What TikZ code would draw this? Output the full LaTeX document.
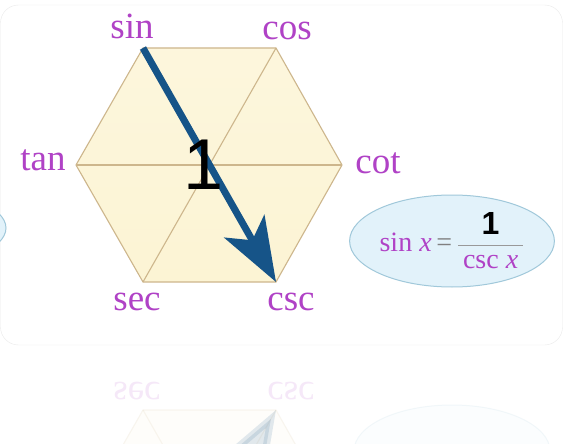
\documentclass[tikz,border=0pt]{standalone}
\usepackage{fontspec}
\setmainfont{Liberation Serif}
\setsansfont{Liberation Sans}
\usetikzlibrary{arrows.meta,shapes.geometric}
\definecolor{trigpurple}{RGB}{176,66,198}
\definecolor{hexfill}{RGB}{252,244,212}
\definecolor{hexline}{RGB}{205,182,140}
\definecolor{arrowblue}{RGB}{22,84,136}
\definecolor{ovalfill}{RGB}{226,242,250}
\definecolor{ovalline}{RGB}{160,200,218}
\definecolor{cardline}{RGB}{234,234,234}

\tikzset{
  trig label/.style={anchor=base, color=trigpurple, font=\fontsize{37}{40}\selectfont},
  hex edge/.style={draw=hexline, line width=1.1pt},
  big arrow/.style={line width=7pt, color=arrowblue, -{Stealth[length=64pt,width=46pt,inset=16pt]}},
  oval/.style={ellipse, draw=ovalline, line width=1pt, fill=ovalfill, minimum width=196pt, minimum height=92pt, inner sep=0pt}
}

% hexagon, its diagonals and the arrow
\newcommand{\trighexagon}{%
  \coordinate (sinv) at (143,48);
  \coordinate (cosv) at (276,48);
  \coordinate (cotv) at (342,165);
  \coordinate (cscv) at (276,282);
  \coordinate (secv) at (143,282);
  \coordinate (tanv) at (76,165);
  \draw[hex edge, top color=hexfill!80, bottom color=hexfill] (sinv) -- (cosv) -- (cotv) -- (cscv) -- (secv) -- (tanv) -- cycle;
  \draw[hex edge] (tanv) -- (cotv);
  \draw[hex edge] (cosv) -- (secv);
  \draw[hex edge] (sinv) -- (cscv);
  \draw[big arrow] (sinv) -- (cscv);
}

\begin{document}
\begin{tikzpicture}[x=1pt,y=-1pt]
  \useasboundingbox (0,0) rectangle (563,444);
  \clip (0,0) rectangle (563,444);
  \fill[white] (0,0) rectangle (563,444);
  \draw[cardline, rounded corners=18pt] (0.5,5) rectangle (562.5,345);
  \draw[ovalline, line width=1pt, fill=ovalfill] (-90,228) ellipse [x radius=96, y radius=38];
  \trighexagon
  \node (sinlbl) at (132,39) [trig label] {sin};
  \node (coslbl) at (287,40) [trig label] {cos};
  \node (tanlbl) at (43,171) [trig label] {tan};
  \node (cotlbl) at (378,173) [trig label] {cot};
  \node (seclbl) at (137,310) [trig label] {sec};
  \node (csclbl) at (291,310) [trig label] {csc};
  \node (one) at (204,165) [font=\sffamily\fontsize{72}{72}\selectfont] {1};
  \node (rule) at (452,241) [oval]
    {\fontsize{28}{30}\selectfont\color{trigpurple}sin \textit{x}\,{\color{gray}=}\,%
     \color{gray!80}$\displaystyle\frac{\mbox{\color{black}\sffamily\bfseries\fontsize{32}{32}\selectfont 1}}%
     {\mbox{\kern5pt\color{trigpurple}\fontsize{28}{30}\selectfont csc \textit{x}\kern5pt}}$};
  % faint mirror image under the card
  \begin{scope}
    \clip (0,346) rectangle (563,444);
    \begin{scope}[shift={(0,692)}, yscale=-1, transform shape, opacity=0.12]
      \trighexagon
      \node (seclow) at (137,310) [trig label] {sec};
      \node (csclow) at (291,310) [trig label] {csc};
      \node (rulelow) at (452,241) [oval] {};
    \end{scope}
  \end{scope}
\end{tikzpicture}
\end{document}
